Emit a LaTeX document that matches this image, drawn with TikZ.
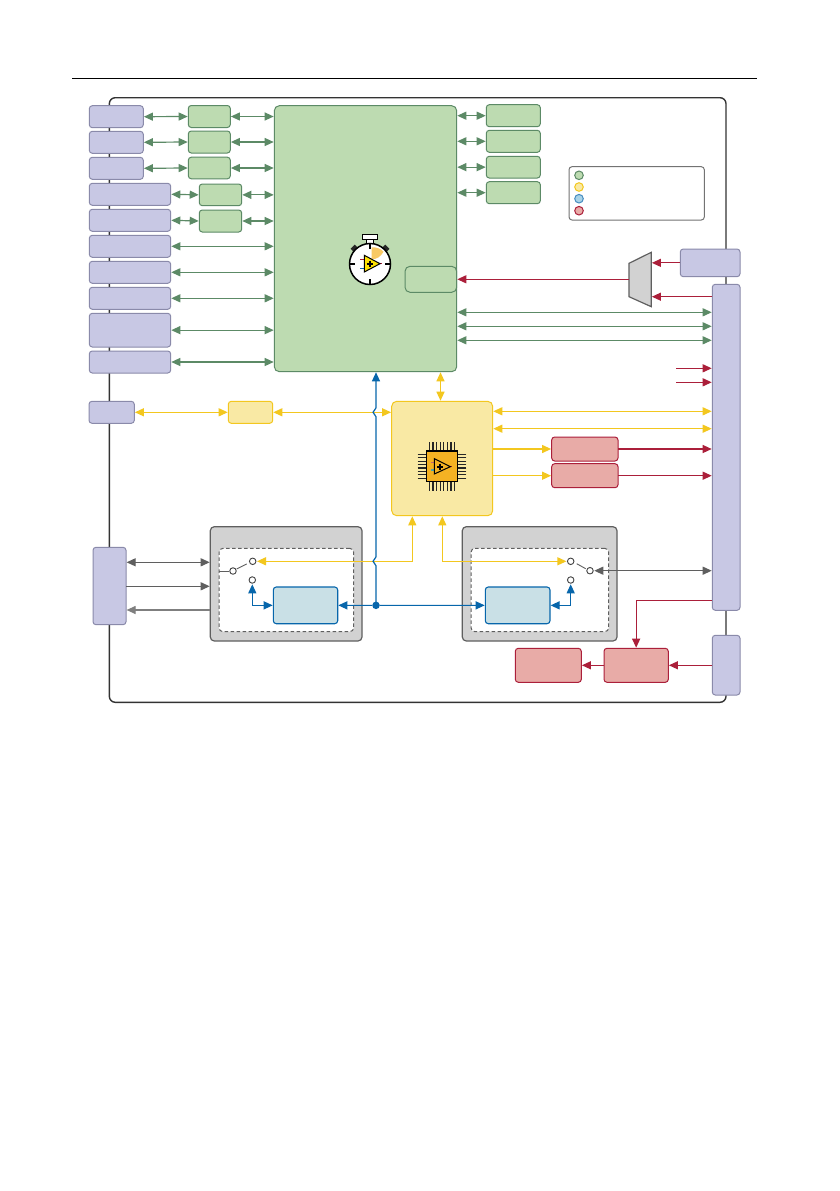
\documentclass[tikz,border=0pt]{standalone}
\usetikzlibrary{arrows.meta,calc}
\definecolor{gf}{HTML}{BDDBB1}\definecolor{gs}{HTML}{5C8A66}
\definecolor{pf}{HTML}{C8C8E4}\definecolor{ps}{HTML}{8A8AAA}
\definecolor{yf}{HTML}{F9E9A4}\definecolor{ys}{HTML}{F3C71F}
\definecolor{rf}{HTML}{E8ABA7}\definecolor{rs}{HTML}{AB1F3A}
\definecolor{bf}{HTML}{C9E0E6}\definecolor{bs}{HTML}{0766AB}
\definecolor{cf}{HTML}{D2D2D2}\definecolor{cs}{HTML}{5F5F5F}
\definecolor{og}{HTML}{F5B223}
\tikzset{
  blk/.style={inner sep=0pt,outer sep=0pt,rounded corners=3pt,line width=1pt},
  pbox/.style={blk,fill=pf,draw=ps},
  gbox/.style={blk,fill=gf,draw=gs},
  ybox/.style={blk,fill=yf,draw=ys},
  rbox/.style={blk,fill=rf,draw=rs},
  bbox/.style={blk,fill=bf,draw=bs,line width=1.1pt},
  gybox/.style={blk,fill=cf,draw=cs,line width=1.2pt,rounded corners=4pt},
  dbox/.style={blk,fill=white,draw=cs,dash pattern=on 3.5pt off 2.5pt,rounded corners=4pt},
  tip/.style={-{Triangle[length=9pt,width=8pt]},shorten >=0.6pt},
  ltip/.style={{Triangle[length=9pt,width=8pt]}-{Triangle[length=9pt,width=8pt]},shorten >=0.6pt,shorten <=0.6pt},
  gl/.style={draw=gs,line width=1.2pt},
  yl/.style={draw=ys,line width=1.2pt},
  rl/.style={draw=rs,line width=1.2pt},
  bl/.style={draw=bs,line width=1.2pt},
  cl/.style={draw=cs,line width=1.2pt},
  swc/.style={circle,draw=black!75,fill=white,line width=0.9pt,inner sep=0pt,minimum size=6.5pt},
  leg/.style={circle,inner sep=0pt,minimum size=8.6pt,line width=1pt},
}
\newcommand\blk[6]{%
  \pgfmathsetmacro\bw{#4-#2}\pgfmathsetmacro\bh{#5-#3}%
  \pgfmathsetmacro\bx{(#4+#2)/2}\pgfmathsetmacro\by{(#5+#3)/2}%
  \node[#6,minimum width=\bw pt,minimum height=\bh pt] (#1) at (\bx,\by) {};}
\begin{document}
\begin{tikzpicture}[x=1pt,y=-1pt]
\useasboundingbox (0,0) rectangle (839,1191);
\fill[white] (0,0) rectangle (839,1191);
\coordinate (hl) at (72,78.4); \coordinate (hr) at (757,78.4);
\draw[line width=0.9pt,black] (hl) -- (hr);
% frame
\draw[line width=1.4pt,black!80,rounded corners=6pt] (109.3,97.7) rectangle (726,702.3);

% left boxes
\blk{a1}{89.3}{105.7}{143.3}{127.7}{pbox}
\blk{a2}{89.3}{131.3}{143.3}{153.3}{pbox}
\blk{a3}{89.3}{157.3}{143.3}{179.3}{pbox}
\blk{a4}{89.3}{183.3}{170.7}{205.3}{pbox}
\blk{a5}{89.3}{209.3}{170.7}{231.3}{pbox}
\blk{a6}{89.3}{235.3}{170.7}{257.3}{pbox}
\blk{a7}{89.3}{261.3}{170.7}{283.3}{pbox}
\blk{a8}{89.3}{287.3}{170.7}{309.3}{pbox}
\blk{a9}{89.3}{313.3}{170.7}{347}{pbox}
\blk{a10}{89.3}{351}{170.7}{373}{pbox}
% small green
\blk{g1}{188.3}{105.5}{230.3}{127.5}{gbox}
\blk{g2}{188.3}{131}{230.3}{153}{gbox}
\blk{g3}{188.3}{157.2}{230.3}{178.8}{gbox}
\blk{g4}{199.3}{184}{241.7}{205.7}{gbox}
\blk{g5}{199.3}{210}{241.7}{232}{gbox}
% main
\blk{main}{274.3}{105.7}{456.7}{371.7}{gbox,rounded corners=5pt}
\blk{inn}{405}{266.3}{456.7}{292.3}{gbox,rounded corners=5pt}
% right green
\blk{h1}{486.3}{104.7}{540.3}{126.7}{gbox}
\blk{h2}{486.3}{130.3}{540.3}{152.3}{gbox}
\blk{h3}{486.3}{156.3}{540.3}{178}{gbox}
\blk{h4}{486.3}{181.7}{540.3}{203.7}{gbox}
% legend
\blk{lg}{569}{166.7}{704.3}{220}{blk,fill=white,draw=black!55}
\node[leg,fill=gf,draw=gs] (l1) at (579,175.3) {};
\node[leg,fill=yf,draw=ys] (l2) at (579,187) {};
\node[leg,fill=black!0!blue!0!cyan!20!bf,draw=bs!75] (l3) at (579,198.7) {};
\node[leg,fill=rf,draw=rs] (l4) at (579,210.7) {};
% right side
\blk{r1}{680.3}{249}{740}{276.7}{pbox}
\blk{r2}{712.3}{284.3}{740}{610.3}{pbox}
\blk{r3}{712.3}{635.3}{740}{695}{pbox}
\coordinate (m1) at (629,263.3); \coordinate (m2) at (651.3,252.3);
\coordinate (m3) at (651.3,306.7); \coordinate (m4) at (629,296.7);
\filldraw[fill=cf,draw=cs,line width=1.2pt] (m1) -- (m2) -- (m3) -- (m4) -- cycle;
\coordinate (mw) at (629,279.3);
% yellow
\blk{ya}{89}{401.3}{134.3}{423.3}{pbox}
\blk{yb}{228.3}{401.3}{272.7}{423.3}{ybox}
\blk{ym}{391.7}{401.3}{492.7}{515.7}{ybox,rounded corners=5pt}
% red
\blk{q1}{551.7}{437}{618}{461}{rbox}
\blk{q2}{551.7}{463.7}{618}{487.7}{rbox}
\blk{q3}{515.3}{648.3}{581.3}{682.3}{rbox}
\blk{q4}{604}{648.3}{668.3}{682.3}{rbox}
% left tall and grey modules
\blk{lt}{93}{547.3}{126}{624.7}{pbox}
\blk{ga}{210.3}{526.7}{362}{641}{gybox}
\blk{da}{219}{548.3}{353.7}{631.7}{dbox}
\blk{gc}{462.3}{526.7}{617}{641}{gybox}
\blk{dc}{471}{548.3}{608.7}{631.7}{dbox}
\blk{ba}{273.3}{587}{337.7}{623.7}{bbox}
\blk{bc}{485.3}{587}{550}{623.7}{bbox}
\node[swc] (s1) at (233,571) {};
\node[swc] (s2) at (252.7,561.3) {};
\node[swc] (s3) at (252.3,580) {};
\node[swc] (t1) at (590,570.7) {};
\node[swc] (t2) at (570.7,561.3) {};
\node[swc] (t3) at (570.7,580) {};
\node[circle,fill=bs,inner sep=0pt,minimum size=7.5pt] (dot) at (376,605.35) {};

% green connectors
\foreach \a/\b in {a1/g1,a2/g2,a3/g3,a4/g4,a5/g5}{
  \draw[gl,ltip] (\a.east) -- (\b.west);}
\foreach \b in {g1,g2,g3,g4,g5}{
  \draw[gl,ltip] (\b.east) -- (main.west |- \b);}
\foreach \a in {a6,a7,a8,a9,a10}{
  \draw[gl,ltip] (\a.east) -- (main.west |- \a);}
\foreach \b in {h1,h2,h3,h4}{
  \draw[gl,ltip] (main.east |- \b) -- (\b.west);}
\foreach \y in {312.3,326.3,340.3}{
  \draw[gl,ltip] (main.east |- 0,\y) -- (r2.west |- 0,\y);}
% red connectors
\draw[rl,tip] (r1.west) -- (m2 |- r1);
\draw[rl,tip] (r2.west |- 0,296.7) -- (m3 |- 0,296.7);
\draw[rl,tip] (mw) -- (inn.east);
\coordinate (f1) at (676,368.3); \coordinate (f2) at (676,382.3);
\draw[rl,tip] (f1) -- (r2.west |- f1);
\draw[rl,tip] (f2) -- (r2.west |- f2);
\draw[rl,tip] (q1.east) -- (r2.west |- q1);
\draw[rl,tip] (q2.east) -- (r2.west |- q2);
\draw[rl,tip] (r2.west |- 0,600.3) -| (q4.north);
\draw[rl,tip] (r3.west |- q4) -- (q4.east);
\draw[rl,tip] (q4.west) -- (q3.east);
% yellow connectors
\draw[yl,ltip] (ya.east) -- (yb.west);
\draw[yl,ltip] (yb.east) -- (ym.west |- yb);
\draw[yl,ltip] (main.south -| 440.5,0) -- (ym.north -| 440.5,0);
\foreach \y in {411.3,428.7}{
  \draw[yl,ltip] (ym.east |- 0,\y) -- (r2.west |- 0,\y);}
\draw[yl,tip] (ym.east |- q1) -- (q1.west);
\draw[yl,tip] (ym.east |- q2) -- (q2.west);
\coordinate (yc1) at (412.3,515.7); \coordinate (yc2) at (442.3,515.7);
\draw[yl,ltip] (s2.east) -| (yc1);
\draw[yl,ltip] (t2.west) -| (yc2);
% blue connectors
\coordinate (bt) at (376,371.7);
\draw[bl,tip] (dot.center) -- (376,565.8)
  .. controls (376,562.5) and (373,564.3) .. (373,561.3)
  .. controls (373,558.3) and (376,560.1) .. (376,556.8)
  -- (376,416.8)
  .. controls (376,413.5) and (373,415.3) .. (373,412.3)
  .. controls (373,409.3) and (376,411.1) .. (376,407.8)
  -- (bt);
\draw[bl,tip] (dot) -- (ba.east);
\draw[bl,tip] (dot) -- (bc.west);
\draw[bl,ltip] (ba.west) -| (s3.south);
\draw[bl,ltip] (bc.east) -| (t3.south);
% grey connectors
\draw[cl,ltip] (lt.east |- 0,562.3) -- (ga.west |- 0,562.3);
\draw[cl,tip] (lt.east |- 0,586.3) -- (ga.west |- 0,586.3);
\draw[draw=cs!80,line width=1.2pt,tip] (ga.west |- 0,610) -- (lt.east |- 0,610);
\draw[cl,ltip] (t1.east) -- (r2.west |- t1);
% switches
\draw[cs,line width=0.9pt] (da.west |- s1) -- (s1.west);
\draw[cs,line width=0.9pt] (236.7,569) -- (246.7,563.9);
\draw[cs,line width=0.9pt] (576.7,563.7) -- (585.7,568.7);

% stopwatch
\begin{scope}[shift={(370,264)}]
  \fill[black!85,rotate around={-45:(0,0)}] (-3,-24.5) rectangle (3,-20);
  \fill[black!85,rotate around={45:(0,0)}] (-3,-24.5) rectangle (3,-20);
  \filldraw[fill=white,draw=black,line width=0.9pt] (-3.3,-24.3) rectangle (3.3,-20);
  \filldraw[fill=white,draw=black,line width=0.9pt] (-7.5,-29.7) rectangle (7,-24.3);
  \filldraw[fill=white,draw=black,line width=1.5pt] (0,0) circle (20.5);
  \fill[og!70] (1.5,-5) -- (1.5,-16.7) .. controls (7,-17) and (11,-15) .. (13.5,-12.3) .. controls (11,-7.5) and (6,-4) .. cycle;
  \draw[black,line width=1.1pt] (0,-20) -- (0,-15) (0,20) -- (0,15) (-20,0) -- (-15,0) (20,0) -- (15,0);
  \draw[rs,line width=1.4pt] (-10,-4.7) -- (-5.7,-4.7);
  \draw[bs,line width=1.4pt] (-10,4.3) -- (-5.7,4.3);
  \draw[rs,line width=1.2pt] (10,-0.3) -- (11.7,-0.3);
  \filldraw[fill=yellow!85!orange,draw=black,line width=1pt,line join=miter] (-5.7,-8.7) -- (-5.7,8) -- (10,-0.3) -- cycle;
  \draw[black,line width=1.6pt] (-3.2,-0.3) -- (3.2,-0.3) (0,-3.5) -- (0,2.9);
\end{scope}
% chip
\begin{scope}[shift={(442,466.3)}]
  \foreach \k in {-3.5,-2.5,...,3.5}{
    \draw[black!85,line width=1.1pt] (-24.3,\k*3.4) -- (-15,\k*3.4);
    \draw[black!85,line width=1.1pt] (24.3,\k*3.4) -- (15,\k*3.4);
    \draw[black!85,line width=1.1pt] (\k*3.6,-24) -- (\k*3.6,-15);
    \draw[black!85,line width=1.1pt] (\k*3.6,24.4) -- (\k*3.6,15);
  }
  \filldraw[fill=og,draw=black,line width=1.4pt] (-15.3,-15.3) rectangle (15.3,15.3);
  \draw[teal!70,line width=1.2pt] (-11,3.7) -- (-7.7,3.7);
  \draw[rs!70,line width=0.7pt] (-11,-4) -- (-7.7,-4);
  \draw[rs,line width=1.1pt] (8.3,0.4) -- (10,0.4);
  \filldraw[fill=og,draw=black,line width=1pt,line join=miter] (-7.7,-7.6) -- (-7.7,7.7) -- (8.3,0.4) -- cycle;
  \draw[black,line width=1.6pt] (-5,0.4) -- (1.4,0.4) (-1.8,-2.8) -- (-1.8,3.6);
\end{scope}
\end{tikzpicture}
\end{document}
